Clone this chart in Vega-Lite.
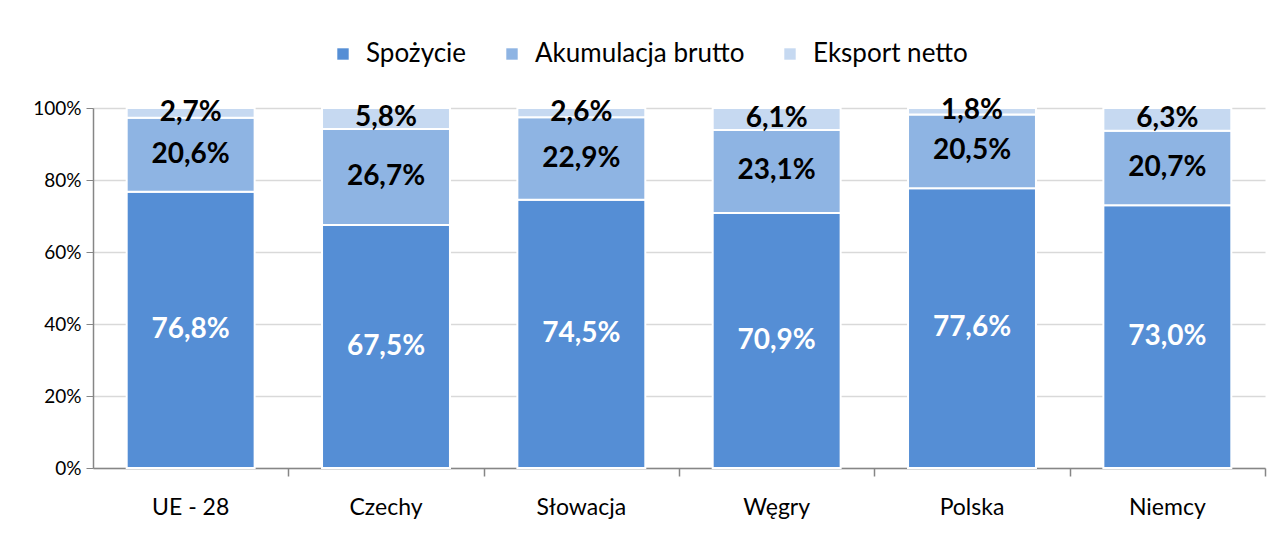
{
  "$schema": "https://vega.github.io/schema/vega-lite/v6.json",
  "width": 1172,
  "height": 360,
  "autosize": "none",
  "padding": {"left": 93, "top": 108, "right": 17, "bottom": 66},
  "background": "white",
  "config": {
    "locale": {"number": {"decimal": ",", "thousands": " ", "grouping": [3], "currency": ["", " zł"]}},
    "font": "Lato",
    "view": {"stroke": null}
  },
  "data": {
    "values": [
      {"kraj": "UE - 28", "skladnik": "Spożycie", "wartosc": 0.768, "ord": 1},
      {"kraj": "UE - 28", "skladnik": "Akumulacja brutto", "wartosc": 0.206, "ord": 2},
      {"kraj": "UE - 28", "skladnik": "Eksport netto", "wartosc": 0.027, "ord": 3},
      {"kraj": "Czechy", "skladnik": "Spożycie", "wartosc": 0.675, "ord": 1},
      {"kraj": "Czechy", "skladnik": "Akumulacja brutto", "wartosc": 0.267, "ord": 2},
      {"kraj": "Czechy", "skladnik": "Eksport netto", "wartosc": 0.058, "ord": 3},
      {"kraj": "Słowacja", "skladnik": "Spożycie", "wartosc": 0.745, "ord": 1},
      {"kraj": "Słowacja", "skladnik": "Akumulacja brutto", "wartosc": 0.229, "ord": 2},
      {"kraj": "Słowacja", "skladnik": "Eksport netto", "wartosc": 0.026, "ord": 3},
      {"kraj": "Węgry", "skladnik": "Spożycie", "wartosc": 0.709, "ord": 1},
      {"kraj": "Węgry", "skladnik": "Akumulacja brutto", "wartosc": 0.231, "ord": 2},
      {"kraj": "Węgry", "skladnik": "Eksport netto", "wartosc": 0.061, "ord": 3},
      {"kraj": "Polska", "skladnik": "Spożycie", "wartosc": 0.776, "ord": 1},
      {"kraj": "Polska", "skladnik": "Akumulacja brutto", "wartosc": 0.205, "ord": 2},
      {"kraj": "Polska", "skladnik": "Eksport netto", "wartosc": 0.018, "ord": 3},
      {"kraj": "Niemcy", "skladnik": "Spożycie", "wartosc": 0.730, "ord": 1},
      {"kraj": "Niemcy", "skladnik": "Akumulacja brutto", "wartosc": 0.207, "ord": 2},
      {"kraj": "Niemcy", "skladnik": "Eksport netto", "wartosc": 0.063, "ord": 3}
    ]
  },
  "transform": [
    {"stack": "wartosc", "groupby": ["kraj"], "sort": [{"field": "ord", "order": "ascending"}], "offset": "normalize", "as": ["v0", "v1"]},
    {"calculate": "(datum.v0 + datum.v1) / 2", "as": "mid"}
  ],
  "resolve": {"axis": {"x": "independent"}},
  "layer": [
    {
      "mark": {"type": "bar", "stroke": "white", "strokeWidth": 2},
      "encoding": {
        "x": {
          "field": "kraj",
          "type": "nominal",
          "sort": ["UE - 28", "Czechy", "Słowacja", "Węgry", "Polska", "Niemcy"],
          "scale": {"paddingInner": 0.345, "paddingOuter": 0.1725},
          "axis": {
            "orient": "bottom",
            "title": null,
            "labelAngle": 0,
            "labelFontSize": 23,
            "labelColor": "#000000",
            "labelPadding": 28,
            "ticks": false,
            "domainColor": "#868686",
            "domainWidth": 1.5
          }
        },
        "y": {
          "field": "v0",
          "type": "quantitative",
          "scale": {"domain": [0, 1], "nice": false},
          "axis": {
            "title": null,
            "format": ".0%",
            "values": [0, 0.2, 0.4, 0.6, 0.8, 1],
            "labelFontSize": 19,
            "labelColor": "#000000",
            "labelPadding": 5,
            "tickSize": 7,
            "tickColor": "#868686",
            "domainColor": "#868686",
            "domainWidth": 1.5,
            "gridColor": "#d9d9d9",
            "gridWidth": 1.5
          }
        },
        "y2": {"field": "v1"},
        "color": {
          "field": "skladnik",
          "type": "nominal",
          "scale": {
            "domain": ["Spożycie", "Akumulacja brutto", "Eksport netto"],
            "range": ["#558ed5", "#8eb4e3", "#c6d9f1"]
          },
          "legend": {
            "title": null,
            "orient": "none",
            "direction": "horizontal",
            "legendX": 237,
            "legendY": -67,
            "symbolType": "square",
            "symbolSize": 130,
            "symbolStrokeWidth": 0,
            "labelFontSize": 26,
            "labelLimit": 400,
            "labelColor": "#000000",
            "labelOffset": 10,
            "columnPadding": 32
          }
        },
        "order": {"field": "ord"}
      }
    },
    {
      "mark": {"type": "text", "fontSize": 28, "fontWeight": "bold", "baseline": "middle", "align": "center"},
      "encoding": {
        "x": {
          "field": "kraj",
          "type": "nominal",
          "sort": ["UE - 28", "Czechy", "Słowacja", "Węgry", "Polska", "Niemcy"],
          "axis": {
            "orient": "bottom",
            "title": null,
            "labels": false,
            "domain": false,
            "tickOffset": 97.67,
            "tickSize": 8,
            "tickColor": "#868686",
            "tickWidth": 1.5
          }
        },
        "y": {"field": "mid", "type": "quantitative"},
        "text": {"field": "wartosc", "type": "quantitative", "format": ".1%"},
        "color": {
          "condition": {"test": "datum.skladnik === 'Spożycie'", "value": "#ffffff"},
          "value": "#000000"
        }
      }
    }
  ]
}
